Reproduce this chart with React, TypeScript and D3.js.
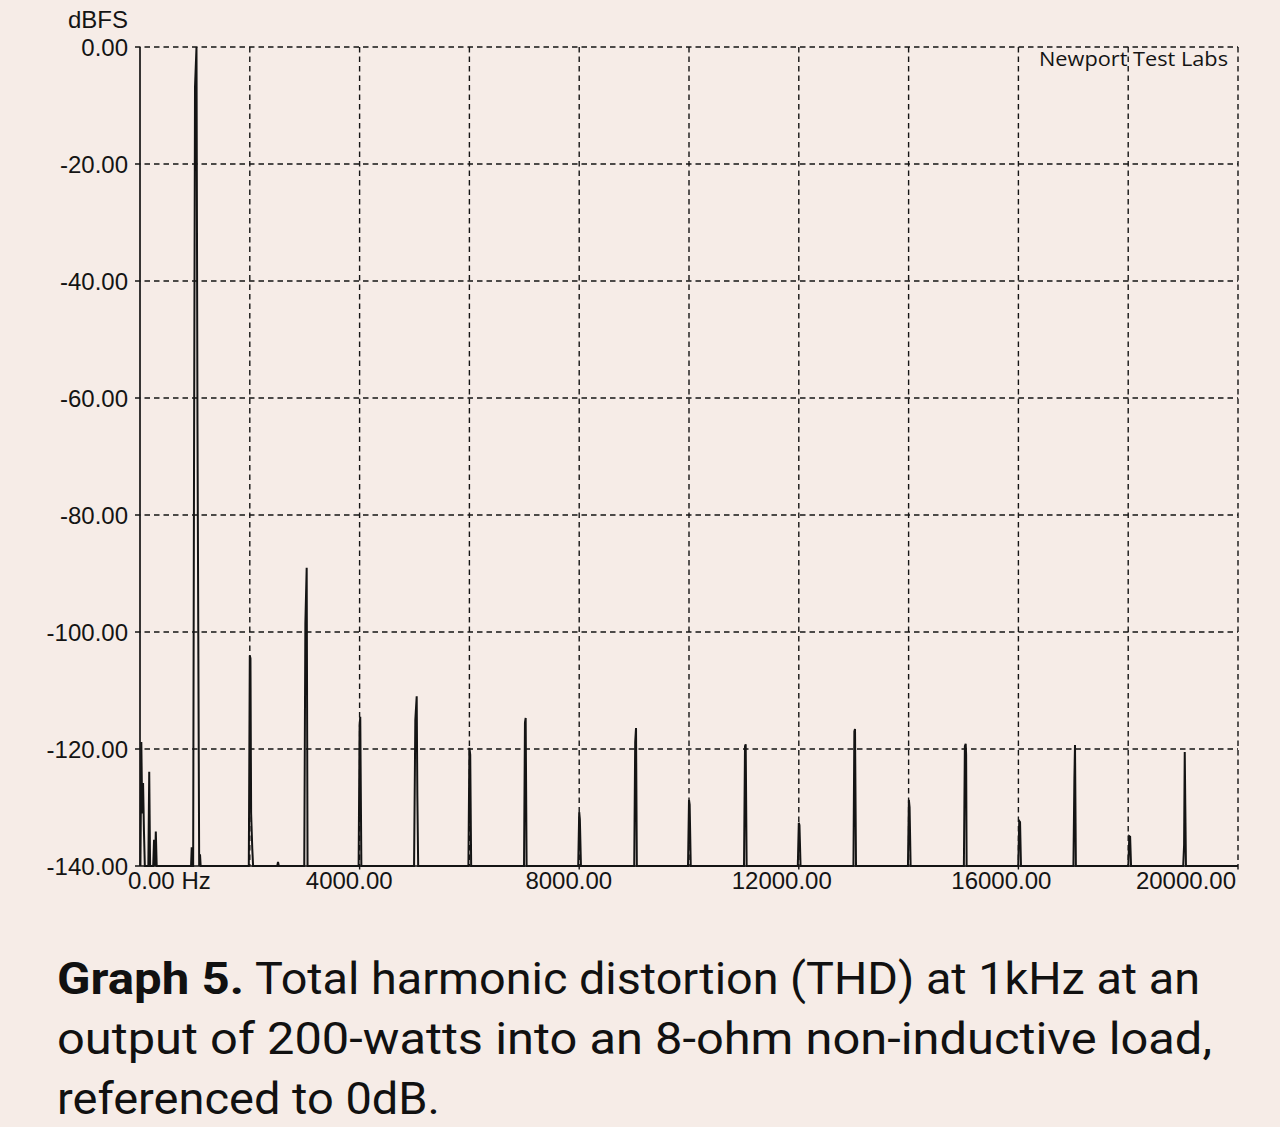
import React from 'react';
import * as d3 from 'd3';

// FFT trace, [frequency Hz, level dBFS]
const lowNoise: [number, number][] = [
  [8, -140], [24, -118.8], [40, -131], [56, -125.8], [72, -134], [88, -140],
  [152, -140], [168, -123.9], [184, -140], [240, -140], [256, -135.5], [272, -140],
  [288, -134.1], [304, -140],
];
const fundamental: [number, number][] = [
  [930, -140], [942, -136.8], [952, -140], [968, -140], [984, -72], [1002, -6.8],
  [1029, 0], [1047, -64.6], [1078, -140], [1093, -138], [1105, -140],
];
const harmonics: [number, number][] = [
  [1982, -140], [2000, -104], [2012, -104.5], [2024, -131], [2045, -137], [2060, -140],
  [2500, -140], [2514, -139.3], [2528, -140],
  [2992, -140], [3012, -98.6], [3036, -89], [3052, -140],
  [3982, -140], [4000, -116], [4012, -114.5], [4032, -140],
  [4992, -140], [5015, -115], [5040, -111], [5052, -128], [5067, -140],
  [5982, -140], [6000, -119.8], [6015, -121], [6032, -140],
  [6995, -140], [7012, -115.5], [7025, -114.7], [7042, -140],
  [7982, -140], [8000, -130.8], [8012, -132], [8032, -140],
  [9002, -140], [9020, -118.8], [9035, -116.4], [9050, -140],
  [9982, -140], [10000, -128.7], [10012, -129.5], [10032, -140],
  [11002, -140], [11020, -119.5], [11033, -119.2], [11050, -140],
  [11982, -140], [12000, -132.6], [12012, -133], [12032, -140],
  [12995, -140], [13012, -117], [13024, -116.6], [13042, -140],
  [13988, -140], [14005, -128.7], [14018, -130], [14037, -140],
  [15007, -140], [15025, -119.5], [15040, -119.1], [15048, -121], [15057, -140],
  [15997, -140], [16015, -132.3], [16030, -132.5], [16047, -140],
  [17002, -140], [17020, -125], [17031, -119.3], [17047, -140],
  [18002, -140], [18020, -134.9], [18035, -135], [18052, -140],
  [19002, -140], [19018, -136.4], [19030, -120.5], [19040, -129.6], [19052, -140],
  [20000, -140],
];

const yTicks = [0, -20, -40, -60, -80, -100, -120, -140];
const xGrid = [2000, 4000, 6000, 8000, 10000, 12000, 14000, 16000, 18000, 20000];
const xLabels = [0, 4000, 8000, 12000, 16000, 20000];

const captionLines = [
  'Total harmonic distortion (THD) at 1kHz at an',
  'output of 200-watts into an 8-ohm non-inductive load,',
  'referenced to 0dB.',
];

const W = 1280;
const H = 1127;
const plot = { left: 140, right: 1238, top: 47, bottom: 866 };
const ink = '#141414';
const bg = '#f6ece7';

// plain hyphen for negatives, like the analyser prints them
const fmt = (v: number) => v.toFixed(2);

export default function App() {
  const x = d3.scaleLinear().domain([0, 20000]).range([plot.left, plot.right]);
  const y = d3.scaleLinear().domain([-140, 0]).range([plot.bottom, plot.top]).clamp(true);

  const trace = [...lowNoise, ...fundamental, ...harmonics];
  const line = d3.line<[number, number]>()
    .x(d => x(d[0]))
    .y(d => y(d[1]));

  const axisFont = '"Liberation Sans", Arial, sans-serif';

  return (
    <svg width={W} height={H} style={{ position: 'absolute', left: 0, top: 0 }}>
      <rect width={W} height={H} fill={bg} />

      {/* dashed grid */}
      <g stroke={ink} strokeWidth={1.4} strokeDasharray="5.5,4" fill="none">
        {yTicks.filter(v => v > -140).map(v => (
          <line key={'h' + v} x1={plot.left - 5} x2={plot.right} y1={y(v)} y2={y(v)} />
        ))}
        {xGrid.map(v => (
          <line key={'v' + v} x1={x(v)} x2={x(v)} y1={plot.top}
            y2={xLabels.includes(v) ? plot.bottom + 7 : plot.bottom} />
        ))}
      </g>

      {/* axes */}
      <g stroke={ink} strokeWidth={1.7}>
        <line x1={plot.left} x2={plot.left} y1={plot.top} y2={plot.bottom} />
        <line x1={plot.left - 5} x2={plot.right} y1={plot.bottom} y2={plot.bottom} />
      </g>

      {/* spectrum */}
      <path d={line(trace) || ''} fill="none" stroke={ink} strokeWidth={2} strokeLinejoin="miter" />

      {/* y labels */}
      <g fontFamily={axisFont} fontSize={24} fill={ink} textAnchor="end">
        <text x={128} y={28}>dBFS</text>
        {yTicks.map(v => (
          <text key={v} x={128} y={y(v) + 8.5}>{fmt(v)}</text>
        ))}
      </g>

      {/* x labels */}
      <g fontFamily={axisFont} fontSize={24} fill={ink}>
        {xLabels.map((v, i) => {
          if (i === 0) {
            return <text key={v} x={x(v) - 12} y={889}>{fmt(v) + ' Hz'}</text>;
          }
          const last = i === xLabels.length - 1;
          return (
            <text key={v} x={last ? x(v) - 2 : x(v) + 33} y={889} textAnchor="end">{fmt(v)}</text>
          );
        })}
      </g>

      <text x={1039} y={66} fontFamily='"Open Sans", sans-serif' fontSize={20} fill={ink}
        textLength={189} lengthAdjust="spacingAndGlyphs">Newport Test Labs</text>

      {/* caption */}
      <g fontFamily="Roboto, sans-serif" fontSize={45} fill="#111">
        <text x={57} y={994} fontWeight={700} textLength={187} lengthAdjust="spacingAndGlyphs">Graph 5.</text>
        <text x={255} y={994} textLength={945} lengthAdjust="spacingAndGlyphs">{captionLines[0]}</text>
        <text x={57} y={1054} textLength={1155} lengthAdjust="spacingAndGlyphs">{captionLines[1]}</text>
        <text x={57} y={1114} textLength={383} lengthAdjust="spacingAndGlyphs">{captionLines[2]}</text>
      </g>
    </svg>
  );
}
